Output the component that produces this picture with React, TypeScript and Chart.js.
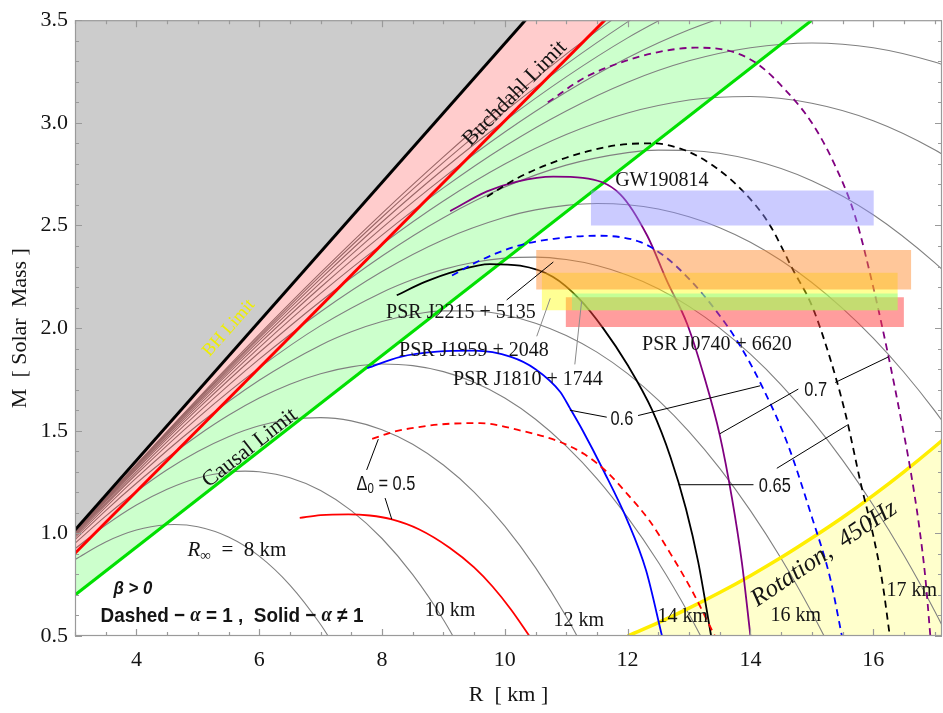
import React, { useEffect, useRef } from "react";
import { Chart, registerables } from "chart.js";

Chart.register(...registerables);

type Pt = [number, number];

// ---------- axes ----------
const X_MIN = 3;
const X_MAX = 17.12;
const Y_MIN = 0.5;
const Y_MAX = 3.5;
const X_TICKS = [4, 6, 8, 10, 12, 14, 16];
const Y_TICKS = [0.5, 1.0, 1.5, 2.0, 2.5, 3.0, 3.5];

// ---------- limits (R [km], M [Msun]); straight lines, clipped at the frame ----------
const BH_LIMIT: Pt[] = [[3, 1.016], [15, 5.08]];
const BUCHDAHL_LIMIT: Pt[] = [[3, 0.903], [15, 4.515]];
const CAUSAL_LIMIT: Pt[] = [[3, 0.7], [15, 3.5]];
const ROTATION_450HZ: Pt[] = [
  [12, 0.5], [12.5, 0.565], [13, 0.636], [13.5, 0.712], [14, 0.794], [14.5, 0.882],
  [15, 0.977], [15.5, 1.077], [16, 1.185], [16.5, 1.3], [17, 1.422], [17.5, 1.551],
];

// ---------- R_inf = const curves ----------
const RINF_8: Pt[] = [[3, 0.873], [3.5, 0.958], [4, 1.016], [4.5, 1.042], [4.62, 1.043], [5, 1.032], [5.5, 0.982], [6, 0.889], [6.5, 0.748], [7, 0.556], [7.25, 0.439]];
const RINF_10: Pt[] = [[3, 0.925], [3.5, 1.04], [4, 1.138], [4.5, 1.215], [5, 1.27], [5.5, 1.299], [5.77, 1.303], [6, 1.3], [6.5, 1.271], [7, 1.209], [7.5, 1.111], [8, 0.975], [8.5, 0.799], [9, 0.579], [9.5, 0.314]];
const RINF_12: Pt[] = [[3, 0.952], [3.5, 1.084], [4, 1.204], [4.5, 1.31], [5, 1.399], [5.5, 1.471], [6, 1.524], [6.5, 1.555], [7, 1.564], [7.5, 1.548], [8, 1.505], [8.5, 1.434], [9, 1.333], [9.5, 1.201], [10, 1.035], [10.5, 0.833], [11, 0.595], [11.5, 0.318]];
const RINF_14: Pt[] = [[3, 0.969], [3.5, 1.111], [4, 1.244], [4.5, 1.367], [5, 1.477], [5.5, 1.575], [6, 1.659], [6.5, 1.727], [7, 1.778], [7.5, 1.811], [8, 1.825], [8.5, 1.817], [9, 1.788], [9.5, 1.736], [10, 1.659], [10.5, 1.556], [11, 1.425], [11.5, 1.267], [12, 1.078], [12.5, 0.859], [13, 0.606], [13.5, 0.321]];
const RINF_16: Pt[] = [[3, 0.98], [4, 1.27], [5, 1.528], [6, 1.746], [7, 1.917], [7.5, 1.982], [8, 2.032], [8.5, 2.066], [9, 2.084], [9.5, 2.083], [10, 2.064], [10.5, 2.024], [11, 1.964], [11.5, 1.883], [12, 1.778], [12.5, 1.649], [13, 1.496], [13.5, 1.317], [14, 1.111], [14.5, 0.878], [15, 0.615], [15.5, 0.323]];
const RINF_18: Pt[] = [[3, 0.988], [4, 1.288], [5, 1.563], [6, 1.806], [7, 2.012], [8, 2.174], [8.5, 2.237], [9, 2.286], [9.5, 2.321], [10, 2.341], [10.5, 2.346], [11, 2.334], [11.5, 2.305], [12, 2.258], [12.5, 2.192], [13, 2.106], [13.5, 2.0], [14, 1.873], [14.5, 1.724], [15, 1.552], [15.5, 1.357], [16, 1.137], [16.5, 0.893], [17, 0.622], [17.5, 0.325]];
const RINF_20: Pt[] = [[3, 0.993], [4, 1.3], [5, 1.587], [6, 1.849], [7, 2.08], [8, 2.276], [9, 2.431], [10, 2.54], [10.5, 2.576], [11, 2.598], [11.5, 2.607], [12, 2.601], [12.5, 2.58], [13, 2.542], [13.5, 2.489], [14, 2.418], [14.5, 2.329], [15, 2.222], [15.5, 2.096], [16, 1.951], [16.5, 1.785], [17, 1.598], [17.5, 1.389]];
const RINF_22: Pt[] = [[3, 0.997], [4, 1.31], [5, 1.606], [6, 1.881], [7, 2.131], [8, 2.351], [9, 2.538], [10, 2.687], [11, 2.794], [12, 2.855], [12.5, 2.867], [13, 2.865], [14, 2.821], [15, 2.718], [16, 2.552], [17, 2.319], [17.5, 2.176]];
const RINF_24: Pt[] = [[3, 1.0], [4, 1.317], [5, 1.62], [6, 1.905], [7, 2.169], [8, 2.408], [9, 2.619], [10, 2.799], [11, 2.943], [12, 3.048], [13, 3.111], [13.5, 3.125], [14, 3.128], [15, 3.095], [16, 3.01], [17, 2.869], [17.5, 2.775]];
const RINF_26: Pt[] = [[3, 1.002], [4, 1.323], [5, 1.631], [6, 1.924], [7, 2.199], [8, 2.453], [9, 2.683], [10, 2.886], [11, 3.058], [12, 3.198], [13, 3.302], [14, 3.366], [15, 3.389], [16, 3.366], [17, 3.296], [17.5, 3.241]];
const RINF_28: Pt[] = [[3, 1.004], [4, 1.327], [5, 1.639], [6, 1.939], [7, 2.222], [8, 2.488], [9, 2.733], [10, 2.955], [11, 3.15], [12, 3.317], [13, 3.453], [14, 3.556], [14.5, 3.594]];
const RINF_30: Pt[] = [[3, 1.006], [4, 1.331], [5, 1.646], [6, 1.951], [7, 2.241], [8, 2.517], [9, 2.774], [10, 3.01], [11, 3.224], [12, 3.414], [13, 3.576]];
const RINF_32: Pt[] = [[3, 1.007], [4, 1.333], [5, 1.652], [6, 1.96], [7, 2.257], [8, 2.54], [9, 2.807], [10, 3.056], [11, 3.285], [12, 3.492], [12.5, 3.587]];
const RINF_34: Pt[] = [[3, 1.008], [4, 1.336], [5, 1.657], [6, 1.969], [7, 2.27], [8, 2.559], [9, 2.834], [10, 3.094], [11, 3.335], [12, 3.558]];
const RINF_CURVES = [RINF_8, RINF_10, RINF_12, RINF_14, RINF_16, RINF_18, RINF_20, RINF_22, RINF_24, RINF_26, RINF_28, RINF_30, RINF_32, RINF_34];

// ---------- model M-R curves ----------
const RED_SOLID: Pt[] = [[6.66, 1.075], [7.0, 1.089], [7.45, 1.093], [7.8, 1.087], [8.16, 1.068], [8.6, 1.02], [9.1, 0.93], [9.5, 0.834], [9.8, 0.741], [10.1, 0.629], [10.4, 0.5]];
const RED_DASHED: Pt[] = [[7.84, 1.46], [8.18, 1.494], [8.6, 1.518], [9.1, 1.534], [9.6, 1.537], [10.2, 1.505], [10.9, 1.445], [11.3, 1.385], [11.66, 1.3], [12.0, 1.19], [12.36, 1.06], [12.7, 0.9], [13.05, 0.72], [13.42, 0.5]];
const BLUE_SOLID: Pt[] = [[7.76, 1.805], [8.3, 1.86], [8.9, 1.885], [9.5, 1.89], [10.1, 1.86], [10.5, 1.8], [10.9, 1.69], [11.06, 1.61], [11.27, 1.5], [11.6, 1.31], [12.0, 1.06], [12.3, 0.82], [12.56, 0.5]];
const BLUE_DASHED: Pt[] = [[9.14, 2.256], [9.6, 2.33], [10.2, 2.4], [10.8, 2.435], [11.5, 2.45], [12.2, 2.42], [12.6, 2.35], [13.0, 2.24], [13.4, 2.1], [13.8, 1.93], [14.2, 1.71], [14.6, 1.44], [15.0, 1.08], [15.3, 0.78], [15.49, 0.5]];
const BLACK_SOLID: Pt[] = [[8.24, 2.16], [8.7, 2.225], [9.2, 2.278], [9.76, 2.312], [10.25, 2.304], [10.78, 2.25], [11.22, 2.14], [11.6, 2.0], [12.0, 1.82], [12.4, 1.6], [12.7, 1.37], [12.95, 1.12], [13.15, 0.86], [13.36, 0.5]];
const BLACK_DASHED: Pt[] = [[9.71, 2.64], [10.2, 2.73], [11.0, 2.83], [11.8, 2.89], [12.4, 2.9], [12.9, 2.87], [13.4, 2.79], [13.9, 2.66], [14.3, 2.51], [14.7, 2.28], [15.0, 2.11], [15.3, 1.85], [15.55, 1.58], [15.8, 1.24], [16.0, 0.99], [16.15, 0.76], [16.27, 0.5]];
const PURPLE_SOLID: Pt[] = [[9.11, 2.57], [9.71, 2.666], [10.2, 2.714], [10.79, 2.738], [11.27, 2.732], [11.88, 2.652], [12.32, 2.45], [12.64, 2.23], [12.97, 2.02], [13.25, 1.76], [13.5, 1.48], [13.7, 1.17], [13.86, 0.86], [14.0, 0.5]];
const PURPLE_DASHED: Pt[] = [[10.7, 3.1], [11.3, 3.22], [11.9, 3.295], [12.5, 3.345], [13.1, 3.366], [13.6, 3.355], [14.1, 3.29], [14.6, 3.15], [15.0, 3.0], [15.35, 2.81], [15.7, 2.55], [16.0, 2.2], [16.25, 1.86], [16.45, 1.56], [16.6, 1.32], [16.75, 1.03], [16.85, 0.78], [16.93, 0.5]];

// ---------- observed mass bands: [R from, R to], [M low, M high] ----------
const GW190814_R = [11.4, 16.01];
const GW190814_M = [2.5, 2.67];
const PSR_J2215_R = [10.51, 16.62];
const PSR_J2215_M = [2.188, 2.381];
const PSR_J1959_R = [10.6, 16.4];
const PSR_J1959_M = [2.087, 2.27];
const PSR_J1810_R = [11.09, 16.4];
const PSR_J1810_M = [2.087, 2.169];
const PSR_J0740_R = [10.99, 16.5];
const PSR_J0740_M = [2.005, 2.15];

// ---------- label leader lines ----------
const LEAD_J2215: Pt[] = [[10.03, 2.137], [10.79, 2.322]];
const LEAD_J1959: Pt[] = [[10.52, 1.96], [10.74, 2.145]];
const LEAD_J1810: Pt[] = [[11.14, 1.823], [11.25, 2.129]];
const LEAD_06A: Pt[] = [[11.06, 1.6], [11.66, 1.566]];
const LEAD_06B: Pt[] = [[12.17, 1.574], [14.16, 1.719]];
const LEAD_065A: Pt[] = [[12.83, 1.237], [14.05, 1.237]];
const LEAD_065B: Pt[] = [[14.43, 1.317], [15.57, 1.526]];
const LEAD_07A: Pt[] = [[13.5, 1.485], [14.78, 1.703]];
const LEAD_07B: Pt[] = [[15.38, 1.735], [16.25, 1.86]];
const LEAD_D0A: Pt[] = [[7.75, 1.309], [7.94, 1.459]];
const LEAD_D0B: Pt[] = [[8.05, 1.172], [8.16, 1.068]];

const SERIF = '"Liberation Serif", "Times New Roman", Times, serif';
const SANS = '"Liberation Sans", Arial, sans-serif';

type Part = { t: string; f: string; dy?: number };
type Note = { x: number; y: number; rot?: number; sx?: number; color: string; parts: Part[] };

const INK = "#141414";
const NOTES: Note[] = [
  { x: 5.507, y: 2.0, rot: -48.8, color: "#eeee00", parts: [{ t: "BH Limit", f: `18px ${SERIF}` }] },
  { x: 10.164, y: 3.143, rot: -45.5, color: INK, parts: [{ t: "Buchdahl Limit", f: `22px ${SERIF}` }] },
  { x: 5.849, y: 1.416, rot: -38.2, color: INK, parts: [{ t: "Causal Limit", f: `22px ${SERIF}` }] },
  { x: 12.557, y: 2.719, color: INK, parts: [{ t: "GW190814", f: `20px ${SERIF}` }] },
  { x: 9.285, y: 2.077, color: INK, parts: [{ t: "PSR J2215 + 5135", f: `20px ${SERIF}` }] },
  { x: 9.496, y: 1.889, color: INK, parts: [{ t: "PSR J1959 + 2048", f: `20px ${SERIF}` }] },
  { x: 10.376, y: 1.749, color: INK, parts: [{ t: "PSR J1810 + 1744", f: `20px ${SERIF}` }] },
  { x: 13.453, y: 1.918, color: INK, parts: [{ t: "PSR J0740 + 6620", f: `20px ${SERIF}` }] },
  { x: 11.906, y: 1.556, sx: 0.82, color: INK, parts: [{ t: "0.6", f: `20px ${SANS}` }] },
  { x: 15.064, y: 1.696, sx: 0.82, color: INK, parts: [{ t: "0.7", f: `20px ${SANS}` }] },
  { x: 14.397, y: 1.228, sx: 0.82, color: INK, parts: [{ t: "0.65", f: `20px ${SANS}` }] },
  {
    x: 8.064, y: 1.238, sx: 0.82, color: INK,
    parts: [{ t: "Δ", f: `20px ${SANS}` }, { t: "0", f: `14px ${SANS}`, dy: 5 }, { t: " = 0.5", f: `20px ${SANS}` }],
  },
  {
    x: 5.638, y: 0.915, color: INK,
    parts: [{ t: "R", f: `italic 21px ${SERIF}` }, { t: "∞", f: `15px ${SERIF}`, dy: 5 }, { t: "  =  8 km", f: `21px ${SERIF}` }],
  },
  { x: 3.944, y: 0.729, sx: 0.88, color: INK, parts: [{ t: "β > 0", f: `italic bold 19px ${SANS}` }] },
  {
    x: 5.556, y: 0.598, sx: 0.9, color: INK,
    parts: [
      { t: "Dashed − ", f: `bold 21px ${SANS}` }, { t: "α", f: `italic bold 21px ${SERIF}` },
      { t: " = 1 ,  Solid − ", f: `bold 21px ${SANS}` }, { t: "α", f: `italic bold 21px ${SERIF}` },
      { t: " ≠ 1", f: `bold 21px ${SANS}` },
    ],
  },
  { x: 9.106, y: 0.621, color: INK, parts: [{ t: "10 km", f: `20px ${SERIF}` }] },
  { x: 11.206, y: 0.572, color: INK, parts: [{ t: "12 km", f: `20px ${SERIF}` }] },
  { x: 12.899, y: 0.596, color: INK, parts: [{ t: "14 km", f: `20px ${SERIF}` }] },
  { x: 14.739, y: 0.601, color: INK, parts: [{ t: "16 km", f: `20px ${SERIF}` }] },
  { x: 16.627, y: 0.722, color: INK, parts: [{ t: "17 km", f: `20px ${SERIF}` }] },
  { x: 15.2, y: 0.9, rot: -34, color: INK, parts: [{ t: "Rotation,  450Hz", f: `italic 25px ${SERIF}` }] },
];

function drawNote(ctx: CanvasRenderingContext2D, n: Note, xs: any, ys: any) {
  const px = xs.getPixelForValue(n.x);
  const py = ys.getPixelForValue(n.y);
  ctx.save();
  ctx.translate(px, py);
  if (n.rot) ctx.rotate((n.rot * Math.PI) / 180);
  if (n.sx) ctx.scale(n.sx, 1);
  ctx.fillStyle = n.color;
  ctx.textBaseline = "middle";
  ctx.textAlign = "left";
  let w = 0;
  for (const p of n.parts) {
    ctx.font = p.f;
    w += ctx.measureText(p.t).width;
  }
  let cx = -w / 2;
  for (const p of n.parts) {
    ctx.font = p.f;
    ctx.fillText(p.t, cx, p.dy || 0);
    cx += ctx.measureText(p.t).width;
  }
  ctx.restore();
}

const overlayPlugin = {
  id: "overlay",
  afterDatasetsDraw(chart: any) {
    const { ctx, chartArea: a, scales } = chart;
    const xs = scales.x;
    const ys = scales.y;
    ctx.save();
    // frame
    ctx.strokeStyle = "#9a9a9a";
    ctx.lineWidth = 1.2;
    ctx.strokeRect(a.left + 0.5, a.top + 0.5, a.right - a.left - 1, a.bottom - a.top - 1);
    // inward ticks on all four sides
    ctx.beginPath();
    for (let i = 0; i <= 30; i++) {
      const v = X_MIN + i * 0.5;
      if (v > X_MAX) break;
      const len = X_TICKS.includes(v) ? 7 : 4;
      const px = Math.round(xs.getPixelForValue(v)) + 0.5;
      ctx.moveTo(px, a.bottom);
      ctx.lineTo(px, a.bottom - len);
      ctx.moveTo(px, a.top);
      ctx.lineTo(px, a.top + len);
    }
    for (let i = 0; i <= 30; i++) {
      const v = Y_MIN + i * 0.1;
      const len = i % 5 === 0 ? 7 : 4;
      const py = Math.round(ys.getPixelForValue(v)) + 0.5;
      ctx.moveTo(a.left, py);
      ctx.lineTo(a.left + len, py);
      ctx.moveTo(a.right, py);
      ctx.lineTo(a.right - len, py);
    }
    ctx.stroke();
    // axis titles
    ctx.fillStyle = INK;
    ctx.font = `22px ${SERIF}`;
    ctx.textAlign = "center";
    ctx.textBaseline = "alphabetic";
    ctx.fillText("R  [ km ]", (a.left + a.right) / 2, 701);
    ctx.save();
    ctx.translate(25.5, (a.top + a.bottom) / 2);
    ctx.rotate(-Math.PI / 2);
    ctx.fillText("M  [ Solar  Mass ]", 0, 0);
    ctx.restore();
    // annotations
    for (const n of NOTES) drawNote(ctx, n, xs, ys);
    ctx.restore();
  },
};

const toXY = (d: Pt[]) => d.map(([x, y]) => ({ x, y }));

function mk(data: Pt[], o: any) {
  return {
    data: toXY(data),
    pointRadius: 0,
    pointHoverRadius: 0,
    fill: false,
    cubicInterpolationMode: "monotone",
    borderWidth: 1,
    ...o,
  };
}

function band(r: number[], m: number[], color: string, order: number) {
  return mk([[r[0], m[1]], [r[1], m[1]]], {
    fill: { value: m[0] },
    backgroundColor: color,
    borderWidth: 0,
    cubicInterpolationMode: "default",
    tension: 0,
    order,
  });
}

function lead(d: Pt[], color = "#000") {
  return mk(d, { borderColor: color, borderWidth: 1, cubicInterpolationMode: "default", tension: 0, order: 40 });
}

export default function App() {
  const ref = useRef<HTMLCanvasElement>(null);

  useEffect(() => {
    const canvas = ref.current;
    if (!canvas) return;
    const DASH = [7, 5];
    const datasets: any[] = [
      // filled regions: 0 causal->buchdahl (green), 1 buchdahl->BH (pink, translucent), 2 BH->top (gray)
      mk(CAUSAL_LIMIT, { fill: 1, backgroundColor: "#ccffcc", borderWidth: 0, order: 100 }),
      mk(BUCHDAHL_LIMIT, { fill: 2, backgroundColor: "rgba(255,0,0,0.2)", borderWidth: 0, order: 75 }),
      mk(BH_LIMIT, { fill: "end", backgroundColor: "#cccccc", borderWidth: 0, order: 74 }),
      mk(ROTATION_450HZ, { fill: "start", backgroundColor: "#ffffcc", borderWidth: 0, order: 97 }),
      // R_inf curves
      ...RINF_CURVES.map((c) => mk(c, { borderColor: "#808080", borderWidth: 1.1, order: 80 })),
      // limit lines
      mk(BH_LIMIT, { borderColor: "#000000", borderWidth: 3, order: 70 }),
      mk(BUCHDAHL_LIMIT, { borderColor: "#ff0000", borderWidth: 3, order: 70 }),
      mk(CAUSAL_LIMIT, { borderColor: "#00e000", borderWidth: 3, order: 70 }),
      mk(ROTATION_450HZ, { borderColor: "#ffee00", borderWidth: 3.5, order: 70 }),
      // model curves
      mk(RED_SOLID, { borderColor: "#ff0000", borderWidth: 1.8, order: 60 }),
      mk(RED_DASHED, { borderColor: "#ff0000", borderWidth: 1.8, borderDash: DASH, order: 60 }),
      mk(BLUE_SOLID, { borderColor: "#0000ff", borderWidth: 1.8, order: 60 }),
      mk(BLUE_DASHED, { borderColor: "#0000ff", borderWidth: 1.8, borderDash: DASH, order: 60 }),
      mk(BLACK_SOLID, { borderColor: "#000000", borderWidth: 1.8, order: 60 }),
      mk(BLACK_DASHED, { borderColor: "#000000", borderWidth: 1.8, borderDash: DASH, order: 60 }),
      mk(PURPLE_SOLID, { borderColor: "#800080", borderWidth: 1.8, order: 60 }),
      mk(PURPLE_DASHED, { borderColor: "#800080", borderWidth: 1.8, borderDash: DASH, order: 60 }),
      // mass bands
      band(GW190814_R, GW190814_M, "rgba(140,140,255,0.45)", 50),
      band(PSR_J0740_R, PSR_J0740_M, "rgba(255,60,60,0.5)", 49),
      band(PSR_J1959_R, PSR_J1959_M, "rgba(255,255,0,0.42)", 48),
      band(PSR_J2215_R, PSR_J2215_M, "rgba(255,130,30,0.45)", 47),
      band(PSR_J1810_R, PSR_J1810_M, "rgba(100,255,150,0.38)", 46),
      // leader lines
      lead(LEAD_J2215),
      lead(LEAD_J1959, "#8a8a8a"),
      lead(LEAD_J1810, "#8a8a8a"),
      lead(LEAD_06A),
      lead(LEAD_06B),
      lead(LEAD_065A),
      lead(LEAD_065B),
      lead(LEAD_07A),
      lead(LEAD_07B),
      lead(LEAD_D0A),
      lead(LEAD_D0B),
    ];

    const chart = new Chart(canvas, {
      type: "line",
      data: { datasets },
      options: {
        responsive: false,
        animation: false,
        events: [],
        layout: { padding: { top: 14, right: 1, left: 0, bottom: 0 } },
        elements: { line: { capBezierPoints: false }, point: { radius: 0 } },
        plugins: { legend: { display: false }, tooltip: { enabled: false } },
        scales: {
          x: {
            type: "linear",
            min: X_MIN,
            max: X_MAX,
            grid: { display: false, drawTicks: false },
            border: { display: false },
            afterFit: (s: any) => {
              s.height = 77;
            },
            afterBuildTicks: (s: any) => {
              s.ticks = X_TICKS.map((v) => ({ value: v }));
            },
            ticks: {
              autoSkip: false,
              maxRotation: 0,
              padding: 11,
              color: INK,
              font: { family: "Liberation Serif", size: 22 },
              callback: (v: any) => String(v),
            },
          },
          y: {
            type: "linear",
            min: Y_MIN,
            max: Y_MAX,
            grid: { display: false, drawTicks: false },
            border: { display: false },
            afterFit: (s: any) => {
              s.width = 75;
            },
            afterBuildTicks: (s: any) => {
              s.ticks = Y_TICKS.map((v) => ({ value: v }));
            },
            ticks: {
              autoSkip: false,
              padding: 7,
              color: INK,
              font: { family: "Liberation Serif", size: 22 },
              callback: (v: any) => Number(v).toFixed(1),
            },
          },
        },
      } as any,
      plugins: [overlayPlugin],
    });
    return () => chart.destroy();
  }, []);

  return (
    <div style={{ position: "fixed", left: 0, top: 0, width: 943, height: 713, background: "#fff" }}>
      <canvas ref={ref} width={943} height={713} style={{ width: 943, height: 713, display: "block" }} />
    </div>
  );
}
